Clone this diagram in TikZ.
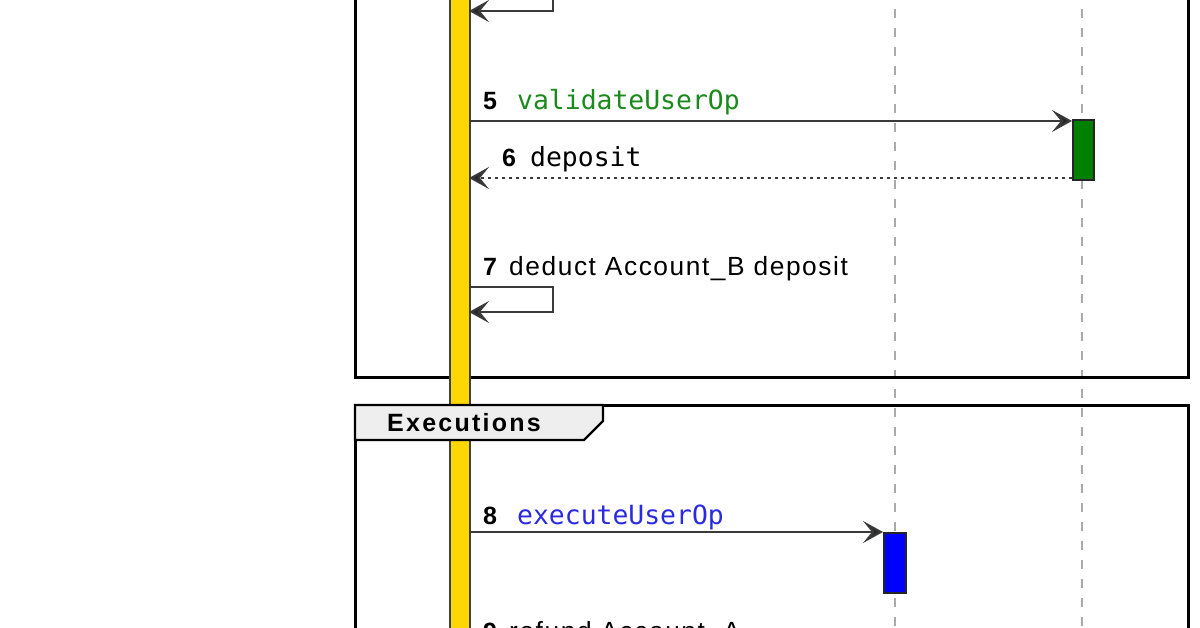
\documentclass[tikz,border=0pt]{standalone}
\usepackage{fontspec}
\setmainfont{Liberation Sans}
\setmonofont{DejaVu Sans Mono}
\usetikzlibrary{arrows.meta}
\definecolor{msgline}{HTML}{3A3A3A}
\definecolor{lifegray}{HTML}{AAAAAA}
\definecolor{barfill}{HTML}{FFD700}
\definecolor{okgreen}{HTML}{008000}
\definecolor{txtgreen}{HTML}{1A8A1A}
\definecolor{txtblue}{HTML}{2A2AE0}
\definecolor{tabfill}{HTML}{EEEEEE}
\tikzset{
  msg/.style={draw=msgline, line width=2pt, -{Stealth[length=20pt,width=22pt,inset=9pt,fill=black!85]}},
  retmsg/.style={msg, dash pattern=on 3pt off 4pt},
  lifeline/.style={draw=lifegray, line width=1.8pt, dash pattern=on 9pt off 10pt},
  frame/.style={draw=black, line width=3pt},
  actbox/.style={draw=black!85, line width=1.8pt},
  num/.style={anchor=base west, inner sep=0pt, font=\fontsize{25}{29}\selectfont\bfseries},
  monotxt/.style={anchor=base west, inner sep=0pt, font=\fontsize{26.4}{30}\selectfont\ttfamily},
  sanstxt/.style={anchor=base west, inner sep=0pt, font=\fontsize{26.3}{30}\selectfont\addfontfeature{LetterSpace=6}},
  tabtxt/.style={anchor=base west, inner sep=0pt, font=\fontsize{25}{29}\selectfont\bfseries\addfontfeature{LetterSpace=9}}
}
\begin{document}
\begin{tikzpicture}[x=1pt,y=-1pt]
\useasboundingbox (0,0) rectangle (1200,628);
\clip (0,0) rectangle (1200,628);
\fill[white] (0,0) rectangle (1200,628);

% lifelines
\coordinate (l1top) at (895,-10);
\coordinate (l1bot) at (895,640);
\coordinate (l2top) at (1082,-10);
\coordinate (l2bot) at (1082,640);
\draw[lifeline] (l1top) -- (l1bot);
\draw[lifeline] (l2top) -- (l2bot);

% frames
\draw[frame] (355,-20) -- (355,378) -- (1188,378) -- (1188,-20);
\draw[frame] (355,650) -- (355,405) -- (1188,405) -- (1188,650);

% activation bar
\node[draw=black!75, fill=barfill, line width=1.6pt, minimum width=20pt, minimum height=680pt, inner sep=0pt, anchor=north west] (bar) at (449,-25) {};

% frame tab (over the bar)
\draw[line width=2.4pt, fill=tabfill] (355,405) -- (603,405) -- (603,421) -- (584,440) -- (355,440) -- cycle;
\node[tabtxt] (tabl) at (387,431) {Executions};

% activation boxes
\node[actbox, fill=okgreen, minimum width=21pt, minimum height=60pt, inner sep=0pt, anchor=north west] (gbox) at (1072,119) {};
\node[actbox, fill=blue, minimum width=22pt, minimum height=60pt, inner sep=0pt, anchor=north west] (bbox) at (883,532) {};

% top partial self message
\coordinate (s0a) at (553,-5);
\coordinate (s0b) at (553,11);
\coordinate (s0c) at (469,11);
\draw[msg] (s0a) -- (s0b) -- (s0c);

% 5
\node[num] (n5) at (483,110) {5};
\node[monotxt, text=txtgreen] (t5) at (517,110) {validateUserOp};
\coordinate (m5s) at (469,121);
\draw[msg] (m5s) -- (gbox.north west |- m5s);

% 6
\node[num] (n6) at (502,167) {6};
\node[monotxt] (t6) at (530,167) {deposit};
\coordinate (m6e) at (469,178);
\draw[retmsg] (gbox.west |- m6e) -- (m6e);

% 7
\node[num] (n7) at (483,276) {7};
\node[sanstxt] (t7) at (509,276) {deduct Account\_B deposit};
\coordinate (s7a) at (469,287);
\coordinate (s7b) at (553,287);
\coordinate (s7c) at (553,312);
\coordinate (s7d) at (469,312);
\draw[msg] (s7a) -- (s7b) -- (s7c) -- (s7d);

% 8
\node[num] (n8) at (483,524) {8};
\node[monotxt, text=txtblue] (t8) at (517,524) {executeUserOp};
\coordinate (m8s) at (469,532);
\draw[msg] (m8s) -- (bbox.north west);

% 9
\node[num] (n9) at (483,640) {9};
\node[sanstxt] (t9) at (509,640) {refund Account\_A};
\end{tikzpicture}
\end{document}
